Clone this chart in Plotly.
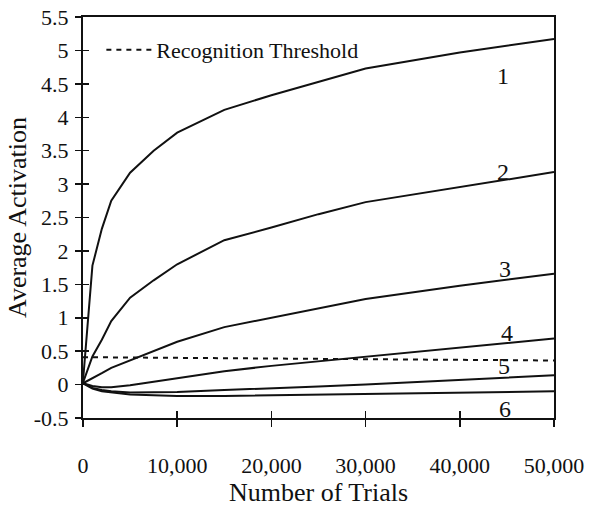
import plotly.graph_objects as go

# ---- data ----
trials = [0, 1000, 2000, 3000, 5000, 7500, 10000, 15000, 20000, 25000, 30000, 40000, 50000]

curve1 = [0.05, 1.78, 2.33, 2.75, 3.17, 3.50, 3.77, 4.11, 4.33, 4.53, 4.73, 4.97, 5.17]
curve2 = [0.03, 0.42, 0.67, 0.95, 1.30, 1.56, 1.80, 2.16, 2.35, 2.55, 2.73, 2.95, 3.18]
curve3 = [0.02, 0.09, 0.17, 0.25, 0.36, 0.50, 0.64, 0.86, 1.00, 1.15, 1.28, 1.48, 1.66]
curve4 = [0.02, -0.02, -0.04, -0.04, -0.01, 0.04, 0.10, 0.20, 0.28, 0.35, 0.41, 0.55, 0.69]
curve5 = [0.02, -0.05, -0.08, -0.10, -0.12, -0.12, -0.11, -0.08, -0.06, -0.03, 0.00, 0.07, 0.14]
curve6 = [0.02, -0.06, -0.10, -0.12, -0.15, -0.16, -0.17, -0.17, -0.16, -0.16, -0.15, -0.13, -0.10]
curves = [curve1, curve2, curve3, curve4, curve5, curve6]

threshold_x = [0, 50000]
threshold_y = [0.41, 0.36]

curve_labels = ["1", "2", "3", "4", "5", "6"]
label_x = [44600, 44600, 44800, 45000, 44700, 44800]
label_y = [4.62, 3.18, 1.73, 0.77, 0.28, -0.36]

y_tickvals = [-0.5, 0, 0.5, 1, 1.5, 2, 2.5, 3, 3.5, 4, 4.5, 5, 5.5]
y_ticktext = ["-0.5", "0", "0.5", "1", "1.5", "2", "2.5", "3", "3.5", "4", "4.5", "5", "5.5"]
x_tickvals = [0, 10000, 20000, 30000, 40000, 50000]
x_ticktext = ["0", "10,000", "20,000", "30,000", "40,000", "50,000"]

FONT = "Liberation Serif, Times New Roman, serif"
INK = "#111111"

fig = go.Figure()

for ys in curves:
    fig.add_trace(go.Scatter(x=trials, y=ys, mode="lines",
                             line=dict(color=INK, width=2),
                             showlegend=False, hoverinfo="skip"))

fig.add_trace(go.Scatter(x=threshold_x, y=threshold_y, mode="lines",
                         name="Recognition Threshold",
                         line=dict(color=INK, width=2, dash="5px,5px"),
                         showlegend=True))

for t, lx, ly in zip(curve_labels, label_x, label_y):
    fig.add_annotation(x=lx, y=ly, text=t, showarrow=False,
                       font=dict(family=FONT, size=24, color=INK),
                       xanchor="center", yanchor="middle")

axis_common = dict(showgrid=False, zeroline=False, automargin=False)

fig.update_layout(
    width=589, height=507,
    margin=dict(l=83, r=35, t=17, b=89),
    paper_bgcolor="white", plot_bgcolor="white",
    font=dict(family=FONT, color=INK),
    showlegend=True,
    legend=dict(x=0.039, y=0.918, xanchor="left", yanchor="middle",
                bgcolor="rgba(0,0,0,0)", borderwidth=0, itemwidth=45,
                font=dict(family=FONT, size=22, color=INK)),
    xaxis=dict(range=[0, 50000], tickvals=x_tickvals, ticktext=x_ticktext,
               ticks="outside", ticklen=7, tickwidth=1.5, tickcolor=INK,
               showline=True, linewidth=2, linecolor=INK, mirror=True,
               tickfont=dict(family=FONT, size=22, color=INK),
               ticklabelstandoff=20,
               title=dict(text="Number of Trials", standoff=4,
                          font=dict(family=FONT, size=26, color=INK)),
               **axis_common),
    yaxis=dict(range=[-0.5, 5.5], tickvals=y_tickvals, ticktext=y_ticktext,
               ticks="outside", ticklen=6, tickwidth=1.5, tickcolor=INK,
               showline=True, linewidth=2, linecolor=INK, mirror=True,
               tickfont=dict(family=FONT, size=22, color=INK),
               ticklabelstandoff=2,
               title=dict(text="Average Activation", standoff=0,
                          font=dict(family=FONT, size=26, color=INK)),
               **axis_common),
    xaxis2=dict(range=[0, 50000], tickvals=x_tickvals, overlaying="x",
                anchor="y", side="bottom", ticks="inside", ticklen=7,
                tickwidth=1.5, tickcolor=INK, showticklabels=False,
                showline=False, **axis_common),
    yaxis2=dict(range=[-0.5, 5.5], tickvals=y_tickvals, overlaying="y",
                anchor="x", side="left", ticks="inside", ticklen=6,
                tickwidth=1.5, tickcolor=INK, showticklabels=False,
                showline=False, **axis_common),
)

# invisible trace to activate the overlay axes for the crossing ticks
fig.add_trace(go.Scatter(x=[0], y=[0], xaxis="x2", yaxis="y2", mode="markers",
                         marker=dict(opacity=0), showlegend=False, hoverinfo="skip"))

fig.write_html("out.html",
               config={"displayModeBar": False, "staticPlot": True},
               post_script="document.body.style.margin='0';document.body.style.overflow='hidden';")
